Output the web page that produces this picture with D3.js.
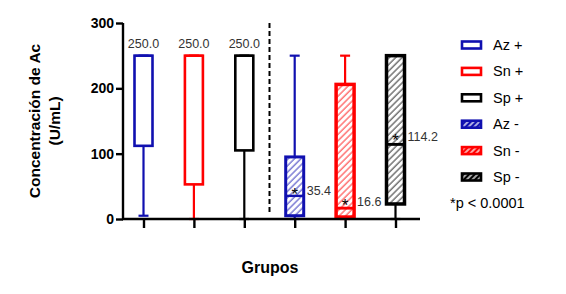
<!DOCTYPE html><html><head><meta charset="utf-8">
<script src="https://cdn.jsdelivr.net/npm/d3@7"></script>
<style>body{margin:0;background:#fff}svg{display:block;font-family:"Liberation Sans",Arial,sans-serif}</style></head><body>
<svg id="c" width="566" height="294"></svg>
<script>
const groups = ["Az +","Sn +","Sp +","Az -","Sn -","Sp -"];
const colors = ["#1010b0","#ff0000","#000000","#1010b0","#ff0000","#000000"];
const hatched = [false,false,false,true,true,true];
const whiskerMin = [5,0,0,0,0,0];
const q1 = [112,53,105,5,3,23];
const median = [250,250,250,35.4,16.6,114.2];
const q3 = [250,250,250,95,206,250];
const whiskerMax = [250,250,250,250,250,250];
const means = [null,null,null,44,27,127];
const valueLabels = ["250.0","250.0","250.0","35.4","16.6","114.2"];
const yTicks = [0,100,200,300];
const pNote = "*p < 0.0001";

const svg = d3.select("#c");
const x = d3.scalePoint().domain(groups).range([143.5,395.5]);
const y = d3.scaleLinear().domain([0,300]).range([219,23]);
const boxW = 18;

const defs = svg.append("defs");
groups.forEach((g,i)=>{
  if(!hatched[i]) return;
  const p = defs.append("pattern").attr("id","h"+i).attr("patternUnits","userSpaceOnUse")
    .attr("width",4.5).attr("height",4.5).attr("patternTransform","rotate(45)");
  p.append("rect").attr("width",4.5).attr("height",4.5).attr("fill","#fff");
  p.append("line").attr("x1",1).attr("x2",1).attr("y1",0).attr("y2",4.5)
    .attr("stroke",colors[i]).attr("stroke-width",1.1).attr("stroke-opacity",0.75);
  const q = defs.append("pattern").attr("id","l"+i).attr("patternUnits","userSpaceOnUse")
    .attr("width",4).attr("height",4).attr("patternTransform","rotate(45)");
  q.append("rect").attr("width",4).attr("height",4).attr("fill",colors[i]);
  q.append("line").attr("x1",1).attr("x2",1).attr("y1",0).attr("y2",4)
    .attr("stroke","#fff").attr("stroke-width",1.3);
});

const sepX = (x("Sp +")+x("Az -"))/2;
svg.append("line").attr("x1",sepX).attr("x2",sepX).attr("y1",y(300)).attr("y2",y(9))
  .attr("stroke","#000").attr("stroke-width",2).attr("stroke-dasharray","5,3");

groups.forEach((g,i)=>{
  const cx = x(g), c = colors[i];
  const sw = hatched[i] ? (i===3 ? 3 : 3.5) : 2.6;
  const gg = svg.append("g");
  gg.append("line").attr("x1",cx).attr("x2",cx).attr("y1",y(whiskerMin[i])).attr("y2",y(q1[i]))
    .attr("stroke",c).attr("stroke-width",2.2);
  gg.append("line").attr("x1",cx).attr("x2",cx).attr("y1",y(q3[i])).attr("y2",y(whiskerMax[i]))
    .attr("stroke",c).attr("stroke-width",2.2);
  [whiskerMin[i],whiskerMax[i]].forEach(v=>{
    gg.append("line").attr("x1",cx-5).attr("x2",cx+5).attr("y1",y(v)).attr("y2",y(v))
      .attr("stroke",c).attr("stroke-width",2.2);
  });
  gg.append("rect").attr("x",cx-boxW/2).attr("y",y(q3[i])).attr("width",boxW)
    .attr("height",y(q1[i])-y(q3[i]))
    .attr("fill",hatched[i]?`url(#h${i})`:"#fff").attr("stroke",c).attr("stroke-width",sw);
  gg.append("line").attr("x1",cx-boxW/2).attr("x2",cx+boxW/2).attr("y1",y(median[i])).attr("y2",y(median[i]))
    .attr("stroke",c).attr("stroke-width",sw-0.6);
  if(means[i]!=null){
    gg.append("text").attr("x",cx).attr("y",y(means[i])+9.5).attr("text-anchor","middle")
      .attr("font-size",17).attr("fill","#000").text("*");
    gg.append("text").attr("x",cx+12).attr("y",y(means[i])+4.5).attr("font-size",12.5)
      .attr("fill","#333").text(valueLabels[i]);
  } else {
    gg.append("text").attr("x",cx).attr("y",y(whiskerMax[i])-8).attr("text-anchor","middle")
      .attr("font-size",12.5).attr("fill","#333").text(valueLabels[i]);
  }
});

const yAxis = svg.append("g").attr("transform","translate(123,0)")
  .call(d3.axisLeft(y).tickValues(yTicks).tickSize(7).tickPadding(2).tickFormat(d3.format("d")));
yAxis.select(".domain").attr("stroke-width",2.4).attr("d",`M0,${y(300)}V${y(0)}`);
yAxis.selectAll(".tick line").attr("stroke-width",2.4);
yAxis.selectAll(".tick text").attr("font-size",14).attr("font-weight","bold").attr("fill","#000")
  .attr("font-family","Liberation Sans, Arial, sans-serif");

const xAxis = svg.append("g").attr("transform",`translate(0,${y(0)})`)
  .call(d3.axisBottom(x).tickSize(9).tickFormat(""));
xAxis.select(".domain").attr("stroke-width",2.4).attr("d","M122,0H420");
xAxis.selectAll(".tick line").attr("stroke-width",2.4);

svg.append("text").attr("transform","translate(40,121) rotate(-90)").attr("text-anchor","middle")
  .attr("font-size",15.5).attr("font-weight","bold").text("Concentración de Ac");
svg.append("text").attr("transform","translate(60,121) rotate(-90)").attr("text-anchor","middle")
  .attr("font-size",15.5).attr("font-weight","bold").text("(U/mL)");
svg.append("text").attr("x",270).attr("y",273).attr("text-anchor","middle")
  .attr("font-size",16).attr("font-weight","bold").text("Grupos");

groups.forEach((g,i)=>{
  const ly = 45 + i*26.4;
  svg.append("rect").attr("x",462).attr("y",ly-3.5).attr("width",19).attr("height",7)
    .attr("fill",hatched[i]?`url(#l${i})`:"#fff").attr("stroke",colors[i]).attr("stroke-width",2.6);
  svg.append("text").attr("x",493).attr("y",ly+5).attr("font-size",14.5).attr("fill","#000").text(g);
});
svg.append("text").attr("x",450).attr("y",208).attr("font-size",14.5).attr("fill","#000").text(pNote);
</script></body></html>
